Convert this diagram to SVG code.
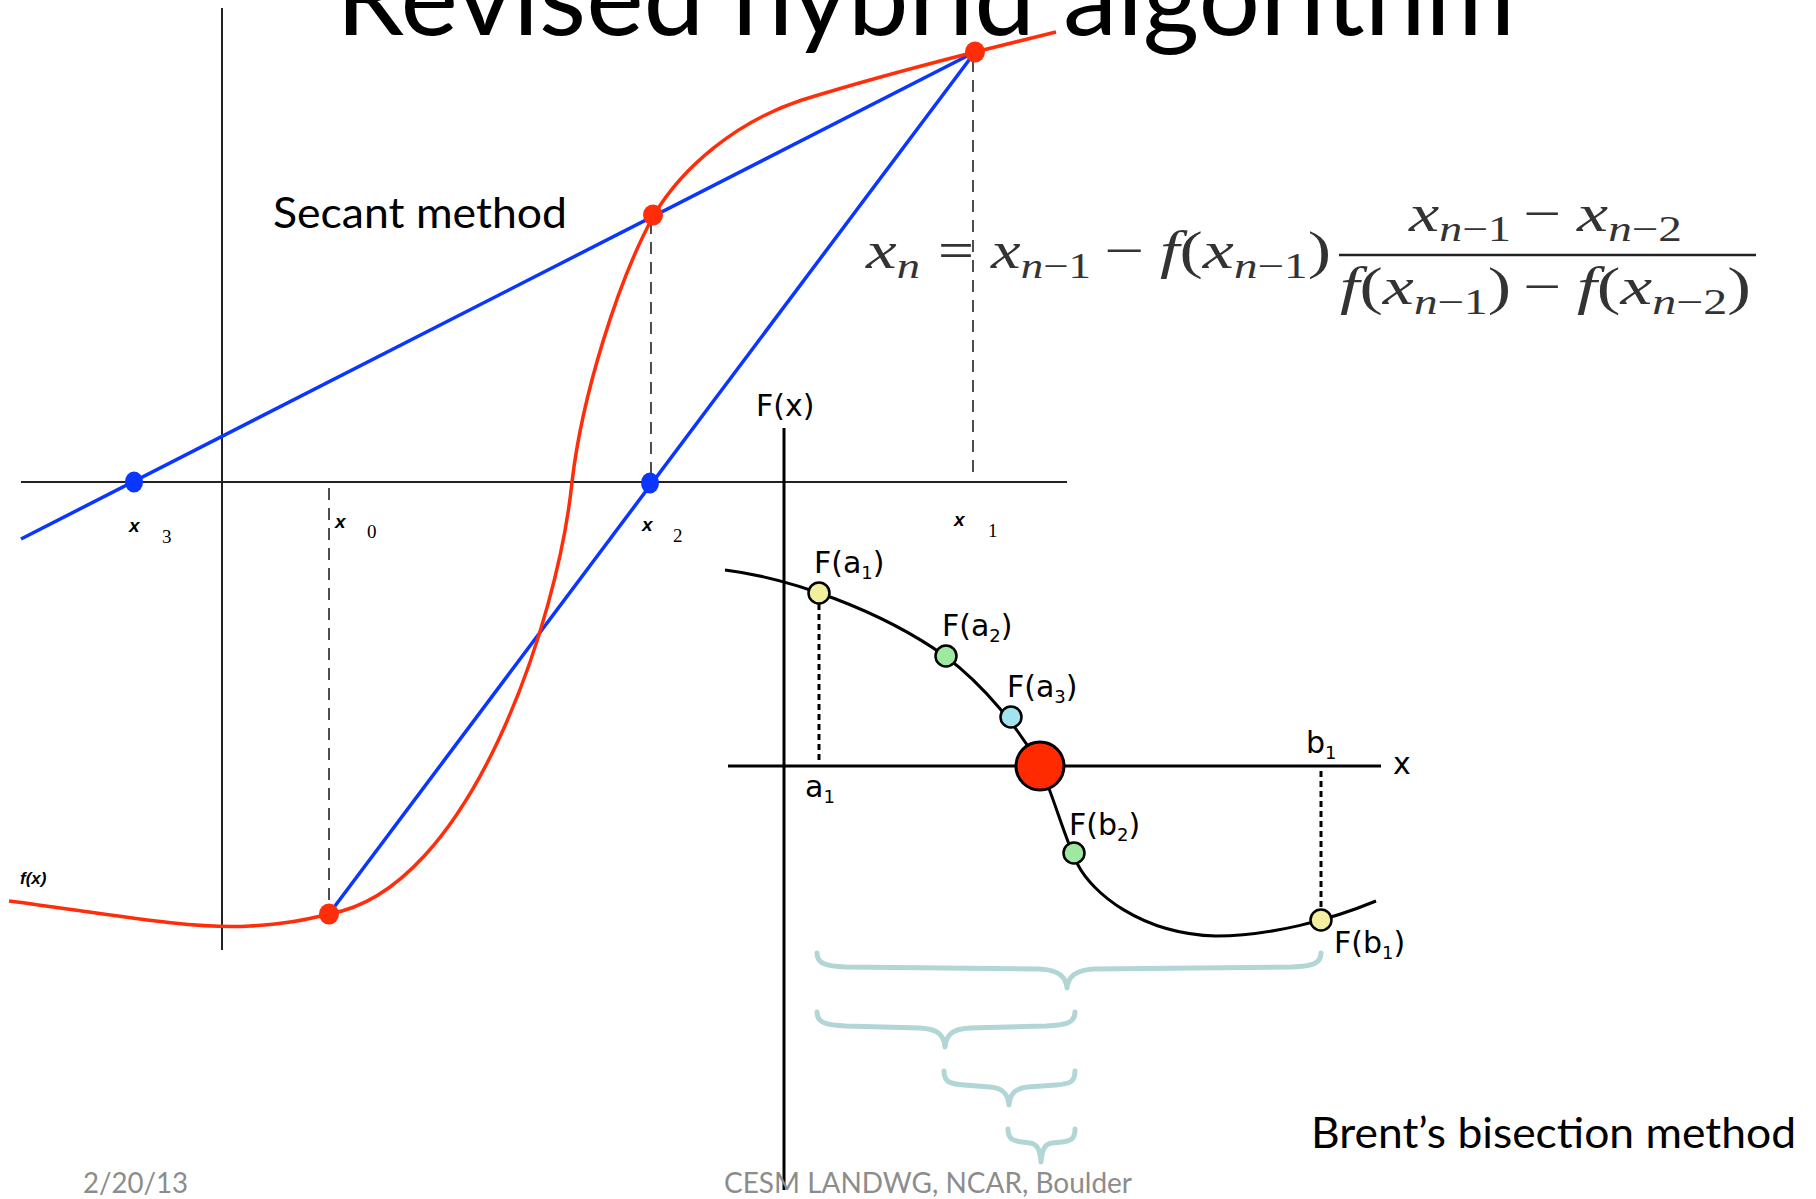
<svg xmlns="http://www.w3.org/2000/svg" width="1816" height="1199" viewBox="0 0 1816 1199">
<style>
.axis{stroke:#222;stroke-width:2;fill:none}
.axis2{stroke:#000;stroke-width:3;fill:none}
.dash{stroke:#222;stroke-width:1.6;stroke-dasharray:12 8;fill:none}
.dot{stroke:#000;stroke-width:3;stroke-dasharray:6 4;fill:none}
.red{stroke:#ff2d0a;stroke-width:3.5;fill:none}
.blue{stroke:#0a36ff;stroke-width:3.5;fill:none}
.rdot{fill:#ff2d0a}
.bdot{fill:#0a36ff}
.fcurve{stroke:#000;stroke-width:3;fill:none}
.pt{stroke:#000;stroke-width:2.5}
.brace{stroke:#b2d5d6;stroke-width:5;fill:none;stroke-linecap:round;stroke-linejoin:round}
.cal{font-family:Lato,"Open Sans",sans-serif;fill:#000}
.foot{font-family:Lato,"Open Sans",sans-serif;fill:#8c8c8c;font-size:29px}
.lbl{font-family:"DejaVu Sans",sans-serif;font-size:30px;fill:#000}
.sub{font-size:18px}
.xl{font-family:"Liberation Sans",sans-serif;font-style:italic;font-weight:bold;font-size:19px;fill:#000}
.dl{font-family:"Liberation Serif",serif;font-size:19px;fill:#000}
.fl{font-family:"Liberation Sans",sans-serif;font-style:italic;font-weight:bold;font-size:17px;fill:#000}
.m{font-family:"Liberation Serif","DejaVu Serif",serif;font-style:italic;font-size:52px;fill:#333}
.ms{font-size:35px}
.u{font-style:normal}
</style>

<g id="title">
<text class="cal" x="336" y="35" font-size="107" textLength="1179" lengthAdjust="spacingAndGlyphs">Revised hybrid algorithm</text>
</g>

<g id="secant-axes">
<line class="axis" x1="21" y1="482" x2="1067" y2="482"/>
<line class="axis" x1="222" y1="8" x2="222" y2="950"/>
</g>

<g id="secant-dashes">
<line class="dash" x1="973" y1="60" x2="973" y2="476"/>
<line class="dash" x1="651" y1="222" x2="651" y2="476"/>
<line class="dash" x1="329" y1="488" x2="329" y2="905"/>
</g>

<g id="connectors">
<line class="blue" x1="21" y1="539" x2="975" y2="52"/>
<line class="blue" x1="329" y1="914" x2="975" y2="52"/>
</g>

<g id="fx-curve">
<path class="red" d="M 9,901 C 90,911 190,930 250,926 C 285,924 305,920 329,914 C 470,890 558,620 572,482 C 582,396 618,280 654,215 C 682,168 735,122 802,100 C 860,82 920,66 975,52 L 1056,32"/>
</g>

<g id="x1-point"><ellipse class="rdot" cx="975" cy="52" rx="10" ry="10.5"/></g>
<g id="mid-point"><ellipse class="rdot" cx="653" cy="215" rx="10" ry="10.5"/></g>
<g id="x0-point"><ellipse class="rdot" cx="329" cy="914" rx="10" ry="10.5"/></g>
<g id="x3-point"><ellipse class="bdot" cx="134" cy="482" rx="9" ry="10.5"/></g>
<g id="x2-point"><ellipse class="bdot" cx="650" cy="483" rx="9" ry="10.5"/></g>

<g id="secant-labels">
<text class="xl" x="129" y="532">x</text><text class="dl" x="162" y="543">3</text>
<text class="xl" x="335" y="528">x</text><text class="dl" x="367" y="538">0</text>
<text class="xl" x="642" y="531">x</text><text class="dl" x="673" y="542">2</text>
<text class="xl" x="954" y="526">x</text><text class="dl" x="988" y="537">1</text>
<text class="fl" x="20" y="884">f(x)</text>
<text class="cal" x="273" y="228" font-size="43" textLength="294" lengthAdjust="spacingAndGlyphs">Secant method</text>
</g>

<g id="formula">
<text class="m" x="866" y="268" textLength="54" lengthAdjust="spacingAndGlyphs">x<tspan class="ms" dy="10">n</tspan></text>
<text class="m u" x="938" y="268" textLength="36" lengthAdjust="spacingAndGlyphs">=</text>
<text class="m" x="991" y="268" textLength="100" lengthAdjust="spacingAndGlyphs">x<tspan class="ms" dy="10">n<tspan class="u">−1</tspan></tspan></text>
<text class="m u" x="1104" y="268" textLength="40" lengthAdjust="spacingAndGlyphs">−</text>
<text class="m" x="1160" y="268" textLength="171" lengthAdjust="spacingAndGlyphs">f<tspan class="u">(</tspan>x<tspan class="ms" dy="10">n<tspan class="u">−1</tspan></tspan><tspan class="u" dy="-10">)</tspan></text>

<text class="m" x="1409" y="231" textLength="102" lengthAdjust="spacingAndGlyphs">x<tspan class="ms" dy="10">n<tspan class="u">−1</tspan></tspan></text>
<text class="m u" x="1523" y="231" textLength="38" lengthAdjust="spacingAndGlyphs">−</text>
<text class="m" x="1577" y="231" textLength="105" lengthAdjust="spacingAndGlyphs">x<tspan class="ms" dy="10">n<tspan class="u">−2</tspan></tspan></text>

<line x1="1339" y1="255" x2="1756" y2="255" stroke="#222" stroke-width="2.5"/>

<text class="m" x="1340" y="304" textLength="171" lengthAdjust="spacingAndGlyphs">f<tspan class="u">(</tspan>x<tspan class="ms" dy="10">n<tspan class="u">−1</tspan></tspan><tspan class="u" dy="-10">)</tspan></text>
<text class="m u" x="1523" y="304" textLength="38" lengthAdjust="spacingAndGlyphs">−</text>
<text class="m" x="1577" y="304" textLength="174" lengthAdjust="spacingAndGlyphs">f<tspan class="u">(</tspan>x<tspan class="ms" dy="10">n<tspan class="u">−2</tspan></tspan><tspan class="u" dy="-10">)</tspan></text>
</g>

<g id="bisection-axes">
<line class="axis2" x1="784" y1="428" x2="784" y2="1190"/>
<line class="axis2" x1="728" y1="766" x2="1381" y2="766"/>
<text class="lbl" x="756" y="416" font-size="31">F(x)</text>
<text class="lbl" x="1393" y="774" font-size="31">x</text>
</g>

<g id="bisection-dots">
<line class="dot" x1="819" y1="604" x2="819" y2="764"/>
<line class="dot" x1="1321" y1="771" x2="1321" y2="910"/>
</g>

<g id="F-curve">
<path class="fcurve" d="M 725,570 C 790,578 880,610 945,656 C 985,686 1020,730 1040,766 C 1055,800 1065,840 1078,865 C 1092,892 1140,934 1216,936 C 1270,936 1330,920 1376,901"/>
</g>

<g id="Fa1"><circle class="pt" cx="819" cy="593" r="10.5" fill="#f2ef9e"/><text class="lbl" x="814" y="573">F(a<tspan class="sub" dy="6">1</tspan><tspan dy="-6">)</tspan></text></g>
<g id="Fa2"><circle class="pt" cx="946" cy="656" r="10.5" fill="#9fe89f"/><text class="lbl" x="942" y="636">F(a<tspan class="sub" dy="6">2</tspan><tspan dy="-6">)</tspan></text></g>
<g id="Fa3"><circle class="pt" cx="1011" cy="717" r="10.5" fill="#a3e3f0"/><text class="lbl" x="1007" y="697">F(a<tspan class="sub" dy="6">3</tspan><tspan dy="-6">)</tspan></text></g>
<g id="root"><circle cx="1040" cy="766" r="24" fill="#ff2a00" stroke="#000" stroke-width="3"/></g>
<g id="Fb2"><circle class="pt" cx="1074" cy="853" r="10.5" fill="#9fe89f"/><text class="lbl" x="1069" y="835">F(b<tspan class="sub" dy="6">2</tspan><tspan dy="-6">)</tspan></text></g>
<g id="Fb1"><circle class="pt" cx="1321" cy="920" r="10.5" fill="#f2ef9e"/><text class="lbl" x="1334" y="953">F(b<tspan class="sub" dy="6">1</tspan><tspan dy="-6">)</tspan></text></g>
<g id="a1"><text class="lbl" x="805" y="797">a<tspan class="sub" dy="6">1</tspan></text></g>
<g id="b1"><text class="lbl" x="1306" y="753">b<tspan class="sub" dy="6">1</tspan></text></g>

<g id="braces">
<path class="brace" d="M 817,953 C 817,964 826,966 846,967 L 1040,969 C 1058,970 1066,976 1067,988 C 1068,976 1076,970 1094,969 L 1292,967 C 1312,966 1321,964 1321,953"/>
<path class="brace" d="M 817,1012 C 817,1023 826,1025 846,1026 L 920,1028 C 938,1029 944,1035 945,1047 C 946,1035 952,1029 970,1028 L 1046,1026 C 1066,1025 1075,1023 1075,1012"/>
<path class="brace" d="M 944,1071 C 944,1082 950,1084 964,1085 L 990,1087 C 1003,1088 1008,1094 1009,1105 C 1010,1094 1015,1088 1028,1087 L 1056,1085 C 1070,1084 1075,1082 1075,1071"/>
<path class="brace" d="M 1008,1129 C 1008,1139 1013,1141 1022,1142 L 1030,1143 C 1038,1144 1040,1151 1041,1162 C 1042,1151 1044,1144 1052,1143 L 1062,1142 C 1071,1141 1075,1139 1075,1129"/>
</g>

<g id="brent-label">
<text class="cal" x="1311" y="1148" font-size="43" textLength="485" lengthAdjust="spacingAndGlyphs">Brent’s bisection method</text>
</g>

<g id="footer">
<text class="foot" x="83" y="1193" textLength="105" lengthAdjust="spacingAndGlyphs">2/20/13</text>
<text class="foot" x="724" y="1193" textLength="408" lengthAdjust="spacingAndGlyphs">CESM LANDWG, NCAR, Boulder</text>
</g>
</svg>
